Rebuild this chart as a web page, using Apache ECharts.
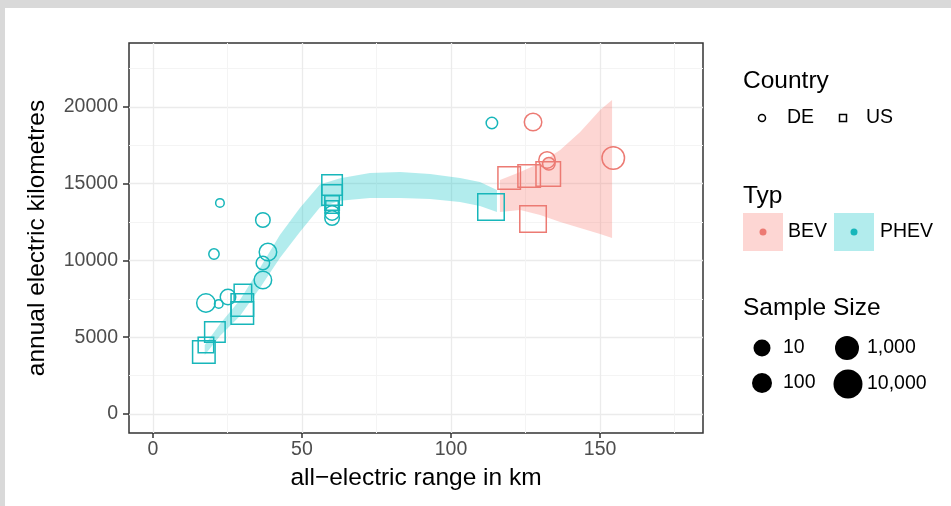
<!DOCTYPE html>
<html>
<head>
<meta charset="utf-8">
<script src="https://cdn.jsdelivr.net/npm/echarts@6/dist/echarts.min.js"></script>
<style>
html, body { margin: 0; padding: 0; background: #d9d9d9; }
#chart { position: absolute; left: 5px; top: 8px; width: 946px; height: 498px; background: #fff; }
</style>
</head>
<body>
<div id="chart"></div>
<script>
// PHEV, Germany (circles)
var phevDeRange = [22.5, 20.5, 17.8, 22.1, 25.2, 36.9, 38.6, 36.9, 36.9, 60.1, 60.1, 113.7];
var phevDeKm    = [13750, 10420, 7230, 7170, 7620, 12640, 10550, 9840, 8730, 13100, 12770, 18960];
var phevDeN     = [8, 20, 1300, 8, 280, 170, 780, 100, 780, 170, 170, 35];

// PHEV, USA (squares)
var phevUsRange = [17.1, 17.8, 20.8, 30.2, 30.0, 30.0, 60.1, 60.1, 60.1, 60.1, 113.4];
var phevUsKm    = [4040, 4500, 5340, 7880, 7100, 6580, 14920, 14270, 13750, 13490, 13490];
var phevUsN     = [10000, 280, 3600, 780, 10000, 10000, 3600, 3600, 170, 60, 77000];

// BEV, Germany (circles)
var bevDeRange = [127.5, 132.2, 132.8, 154.4];
var bevDeKm    = [19020, 16550, 16300, 16680];
var bevDeN     = [780, 460, 60, 10000];

// BEV, USA (squares)
var bevUsRange = [119.5, 126.2, 132.6, 127.5];
var bevUsKm    = [15380, 15510, 15640, 12700];
var bevUsN     = [10000, 10000, 28000, 77000];

// smoother confidence bands
var phevBandX    = [17.4, 22.5, 29.2, 35.9, 42.6, 49.3, 56.0, 62.8, 72.8, 82.9, 93.0, 103.0, 109.7, 115.4];
var phevBandLow  = [3840, 5080, 6390, 8210, 10160, 11860, 13450, 13900, 14070, 14070, 14010, 13810, 13550, 13160];
var phevBandHigh = [4500, 5860, 7430, 9510, 11660, 13420, 14950, 15350, 15700, 15770, 15640, 15380, 15120, 14590];

var bevBandX    = [116.4, 123.2, 129.9, 136.6, 143.3, 150.0, 154.0];
var bevBandLow  = [13160, 13290, 12970, 12510, 12120, 11730, 11470];
var bevBandHigh = [15250, 15770, 16350, 17200, 18370, 19810, 20460];

var xMajor = [0, 50, 100, 150];
var xMinor = [25, 75, 125, 175];
var yMajor = [0, 5000, 10000, 15000, 20000];
var yMinor = [2500, 7500, 12500, 17500, 22500];

var sizeLabels = ['10', '100', '1,000', '10,000'];

var FONT = '"Liberation Sans", Arial, Helvetica, sans-serif';
var BEV = '#ec7a73';
var PHEV = '#17b6ba';
var BEV_FILL = 'rgba(248,118,109,0.3)';
var PHEV_FILL = 'rgba(0,191,196,0.3)';

function sizeOf(n) {
    return 4.5 + 4.5 * Math.log10(n);
}

function points(xs, ys, ns) {
    var out = [];
    for (var i = 0; i < xs.length; i++) out.push([xs[i], ys[i], ns[i]]);
    return out;
}

function pointSeries(name, xs, ys, ns, symbol, color) {
    return {
        name: name,
        type: 'scatter',
        symbol: symbol,
        silent: true,
        data: points(xs, ys, ns),
        symbolSize: function (v) { return sizeOf(v[2]); },
        itemStyle: { color: 'rgba(0,0,0,0)', borderColor: color, borderWidth: 1.5, opacity: 1 }
    };
}

function bandSeries(name, xs, lo, hi, fill) {
    return {
        name: name,
        type: 'custom',
        silent: true,
        clip: true,
        data: points(xs, lo, hi),
        encode: { x: 0, y: [1, 2] },
        renderItem: function (params, api) {
            if (params.dataIndex !== 0) return;
            var pts = [];
            for (var i = 0; i < xs.length; i++) pts.push(api.coord([xs[i], hi[i]]));
            for (var j = xs.length - 1; j >= 0; j--) pts.push(api.coord([xs[j], lo[j]]));
            return { type: 'polygon', shape: { points: pts }, style: { fill: fill, stroke: null } };
        }
    };
}

function txt(x, y, s, size, color) {
    return { type: 'text', x: x, y: y, style: { text: s, font: size + 'px ' + FONT, fill: color || '#000', align: 'left', verticalAlign: 'middle' } };
}

function plain(v) { return String(v); }

// legend, drawn by hand (offsets relative to the chart div)
var legendDots = [[757, 340, 8.5], [757, 375, 10], [842, 340, 12], [843, 376, 14.5]];
var legendItems = [
    txt(738, 73, 'Country', 24.5),
    { type: 'circle', shape: { cx: 757, cy: 110, r: 3.5 }, style: { fill: 'none', stroke: '#000', lineWidth: 1.5 } },
    txt(782, 110, 'DE', 19.5),
    { type: 'rect', shape: { x: 834.5, y: 106.5, width: 7, height: 7 }, style: { fill: 'none', stroke: '#000', lineWidth: 1.5 } },
    txt(861, 110, 'US', 19.5),
    txt(738, 188, 'Typ', 24.5),
    { type: 'rect', shape: { x: 738, y: 205, width: 40, height: 38 }, style: { fill: BEV_FILL } },
    { type: 'circle', shape: { cx: 758, cy: 224, r: 3.5 }, style: { fill: BEV } },
    txt(783, 224, 'BEV', 19.5),
    { type: 'rect', shape: { x: 829, y: 205, width: 40, height: 38 }, style: { fill: PHEV_FILL } },
    { type: 'circle', shape: { cx: 849, cy: 224, r: 3.5 }, style: { fill: PHEV } },
    txt(875, 224, 'PHEV', 19.5),
    txt(738, 300, 'Sample Size', 24.5)
];
for (var k = 0; k < sizeLabels.length; k++) {
    var d = legendDots[k];
    legendItems.push({ type: 'circle', shape: { cx: d[0], cy: d[1], r: d[2] }, style: { fill: '#000' } });
    legendItems.push(txt(k < 2 ? 778 : 862, d[1], sizeLabels[k], 19.5, '#000'));
}

var chart = echarts.init(document.getElementById('chart'));
chart.setOption({
    animation: false,
    textStyle: { fontFamily: FONT },
    grid: {
        left: 124, top: 35, right: 248, bottom: 73, outerBoundsMode: 'none',
        show: true, borderColor: '#333', borderWidth: 1.5, backgroundColor: 'transparent'
    },
    xAxis: [{
        type: 'value', min: -8, max: 184.5, position: 'bottom',
        name: 'all\u2212electric range in km', nameLocation: 'middle', nameGap: 33,
        nameTextStyle: { fontSize: 24.5, color: '#000', fontFamily: FONT },
        axisLine: { show: false, onZero: false },
        axisTick: { show: true, length: 5, customValues: xMajor, lineStyle: { color: '#333', width: 1.5 } },
        axisLabel: { customValues: xMajor, formatter: plain, fontSize: 19.5, color: '#4d4d4d', margin: 7, fontFamily: FONT },
        splitLine: { show: true, lineStyle: { color: '#ebebeb', width: 1.3 } }
    }, {
        type: 'value', min: -8, max: 184.5, position: 'bottom',
        axisLine: { show: false, onZero: false },
        axisTick: { show: false, customValues: xMinor },
        axisLabel: { show: false, customValues: xMinor },
        splitLine: { show: true, lineStyle: { color: '#f4f4f4', width: 1 } }
    }],
    yAxis: [{
        type: 'value', min: -1240, max: 24170,
        name: 'annual electric kilometres', nameLocation: 'middle', nameGap: 79, nameRotate: 90,
        nameTextStyle: { fontSize: 24.5, color: '#000', fontFamily: FONT },
        axisLine: { show: false, onZero: false },
        axisTick: { show: true, length: 6, customValues: yMajor, lineStyle: { color: '#333', width: 1.5 } },
        axisLabel: { customValues: yMajor, formatter: plain, fontSize: 19.5, color: '#4d4d4d', margin: 11, fontFamily: FONT },
        splitLine: { show: true, lineStyle: { color: '#ebebeb', width: 1.3 } }
    }, {
        type: 'value', min: -1240, max: 24170, position: 'left',
        axisLine: { show: false, onZero: false },
        axisTick: { show: false, customValues: yMinor },
        axisLabel: { show: false, customValues: yMinor },
        splitLine: { show: true, lineStyle: { color: '#f4f4f4', width: 1 } }
    }],
    series: [
        pointSeries('PHEV DE', phevDeRange, phevDeKm, phevDeN, 'circle', PHEV),
        pointSeries('PHEV US', phevUsRange, phevUsKm, phevUsN, 'rect', PHEV),
        pointSeries('BEV DE', bevDeRange, bevDeKm, bevDeN, 'circle', BEV),
        pointSeries('BEV US', bevUsRange, bevUsKm, bevUsN, 'rect', BEV),
        bandSeries('PHEV band', phevBandX, phevBandLow, phevBandHigh, PHEV_FILL),
        bandSeries('BEV band', bevBandX, bevBandLow, bevBandHigh, BEV_FILL)
    ],
    graphic: legendItems
});
</script>
</body>
</html>
